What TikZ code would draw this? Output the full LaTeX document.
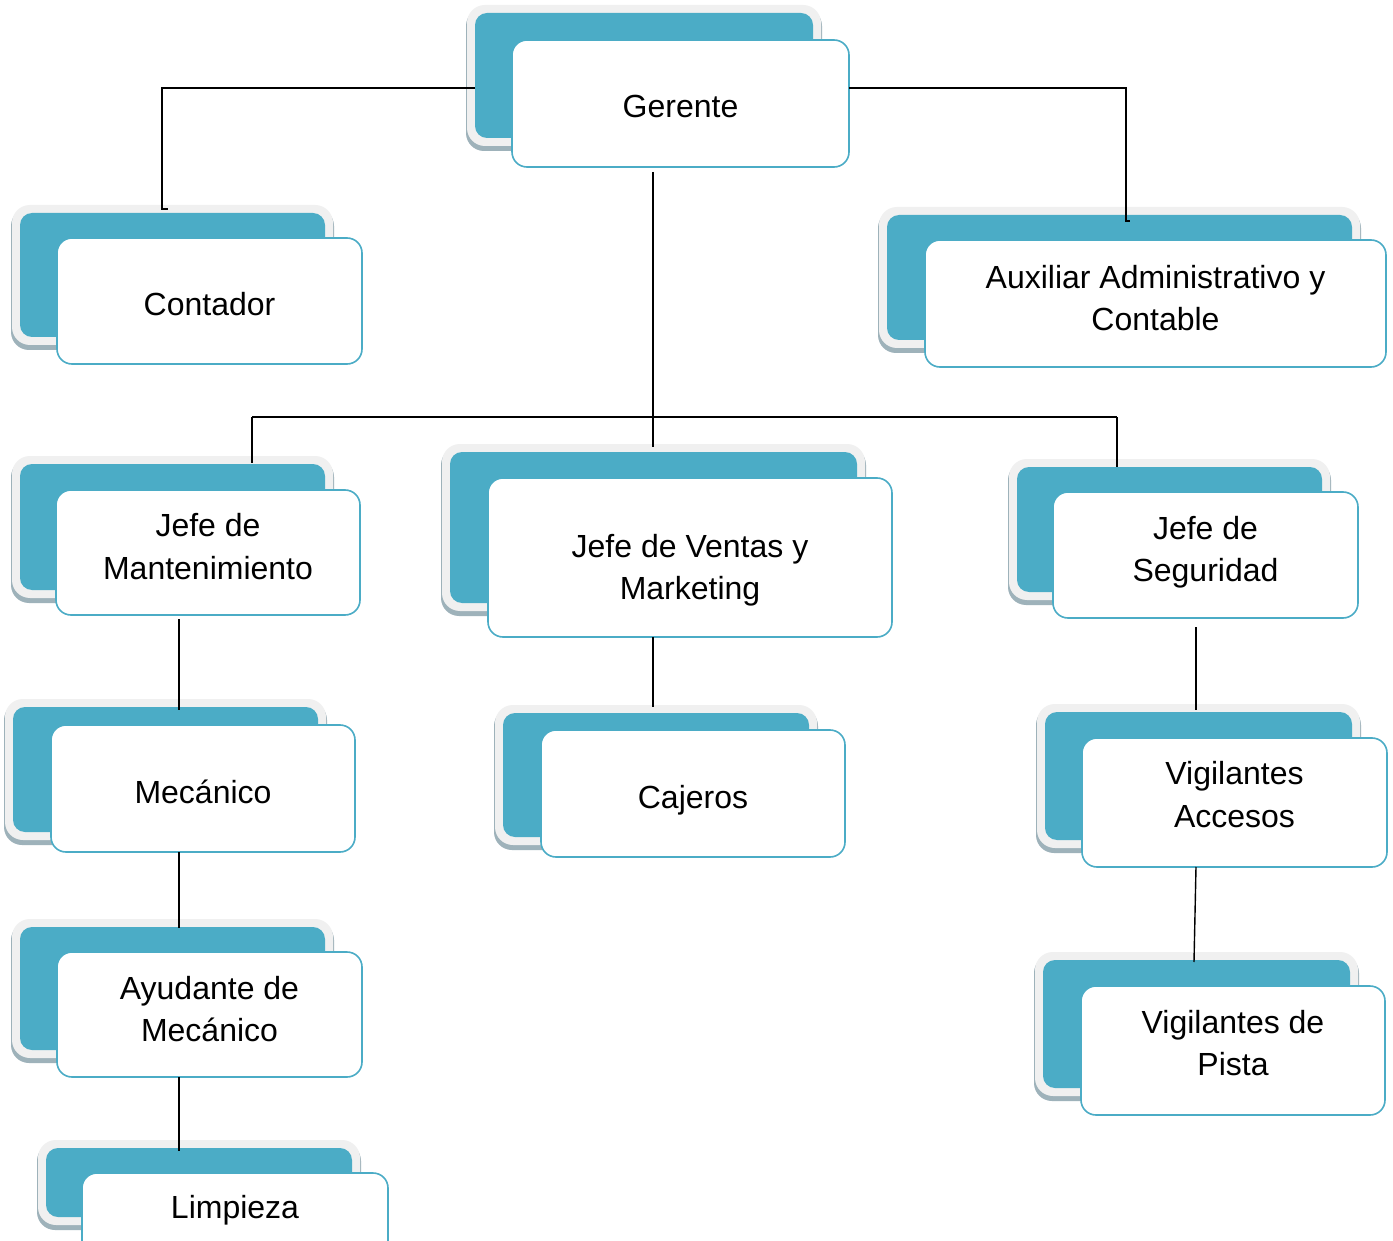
\documentclass[tikz,border=0pt]{standalone}
\usepackage{fontspec}
\setmainfont{Liberation Sans}
\usetikzlibrary{calc}
\definecolor{cardblue}{HTML}{4BACC6}
\definecolor{cardrim}{HTML}{F0F0F0}
\definecolor{cardshadow}{HTML}{9EB2BA}
\tikzset{
 backcard/.style={rectangle, rounded corners=12pt, fill=cardblue, inner sep=0pt, outer sep=0pt},
 frontcard/.style={rectangle, rounded corners=15pt, fill=white, draw=cardblue, line width=1.6pt, inner sep=0pt, outer sep=0pt},
 lbl/.style={font=\fontsize{32}{42.5}\selectfont, align=center, inner sep=0pt},
 link/.style={draw=black, line width=1.4pt},
}
\newcommand\orgcard[9]{%
  \fill[cardshadow, rounded corners=18pt] (#2-9,#3-5) rectangle (#4+9,#5+13);
  \fill[cardrim, rounded corners=18pt] (#2-8,#3-8) rectangle (#4+8,#5+8);
  \node[backcard, minimum width={(#4-#2)*1pt}, minimum height={(#5-#3)*1pt}] (#1B) at ({(#2+#4)/2},{(#3+#5)/2}) {};
  \node[frontcard, minimum width={(#8-#6)*1pt}, minimum height={(#9-#7)*1pt}] (#1F) at ({(#6+#8)/2},{(#7+#9)/2}) {};
}
\begin{document}
\begin{tikzpicture}[x=1pt,y=-1pt]
\path[use as bounding box] (0,0) rectangle (1393,1241);
\clip (0,0) rectangle (1393,1241);
\fill[white] (0,0) rectangle (1393,1241);

\orgcard{ger}{475}{13}{813}{138}{512}{40}{849}{167}
\orgcard{con}{20}{213}{325}{337}{57}{238}{362}{364}
\orgcard{aux}{887}{215}{1352}{340}{925}{240}{1386}{367}
\orgcard{man}{20}{464}{325}{590}{56}{490}{360}{615}
\orgcard{ven}{450}{452}{857}{603}{488}{478}{892}{637}
\orgcard{seg}{1017}{467}{1322}{592}{1053}{492}{1358}{618}
\orgcard{mec}{13}{707}{318}{832}{51}{725}{355}{852}
\orgcard{caj}{503}{713}{809}{837}{541}{730}{845}{857}
\orgcard{vac}{1045}{712}{1352}{840}{1082}{738}{1387}{867}
\orgcard{vpi}{1043}{960}{1350}{1088}{1081}{986}{1385}{1115}
\orgcard{ayu}{20}{927}{325}{1050}{57}{952}{362}{1077}
\orgcard{lim}{46}{1148}{352}{1217}{82}{1173}{388}{1300}

\coordinate (jl) at (162,88);
\coordinate (jr) at (1126,88);
\coordinate (jm) at (653,417);
\coordinate (jL) at (252,417);
\coordinate (jR) at (1117,417);
\coordinate (jc) at (179,0);
\coordinate (js) at (1196,0);
\draw[link] (gerB.west |- jl) -- (jl) -- ($(conB.north -| jl)+(0,-4)$) -- ++(6,0);
\draw[link] (gerF.east |- jr) -- (jr) -- ($(auxB.north -| jr)+(0,6)$) -- ++(4,0);
\draw[link] ($(gerF.south -| jm)+(0,5)$) -- ($(venB.north -| jm)+(0,-5)$);
\draw[link] (jL) -- (jR);
\draw[link] (jL) -- ($(manB.north -| jL)+(0,-1)$);
\draw[link] (jR) -- (segB.north -| jR);
\draw[link] ($(manF.south -| jc)+(0,4)$) -- ($(mecB.north -| jc)+(0,3)$);
\draw[link] (mecF.south -| jc) -- ($(ayuB.north -| jc)+(0,1)$);
\draw[link] (ayuF.south -| jc) -- ($(limB.north -| jc)+(0,3)$);
\draw[link] (venF.south -| jm) -- ($(cajB.north -| jm)+(0,-6)$);
\draw[link] ($(segF.south -| js)+(0,9)$) -- ($(vacB.north -| js)+(0,-2)$);
\draw[link] (vacF.south -| js) -- ($(vpiB.north -| js)+(-2,2)$);

\node[lbl, anchor=base] (gerT) at (680.5,118) {Gerente};
\node[lbl, anchor=base] (conT) at (209.5,316) {Contador};
\node[lbl] (auxT) at (1155.5,298) {Auxiliar Administrativo y\\Contable};
\node[lbl] (manT) at (208,546.5) {Jefe de\\Mantenimiento};
\node[lbl] (venT) at (690,570) {Jefe de Ventas y\\Marketing};
\node[lbl] (segT) at (1205.5,552) {Jefe de\\Seguridad};
\node[lbl, anchor=base] (mecT) at (203,803) {Mecánico};
\node[lbl, anchor=base] (cajT) at (693,808) {Cajeros};
\node[lbl] (vacT) at (1234.5,794.5) {Vigilantes\\Accesos};
\node[lbl] (vpiT) at (1233,1043) {Vigilantes de\\Pista};
\node[lbl] (ayuT) at (209.5,1009) {Ayudante de\\Mecánico};
\node[lbl, anchor=base] (limT) at (235,1218) {Limpieza};
\end{tikzpicture}
\end{document}
